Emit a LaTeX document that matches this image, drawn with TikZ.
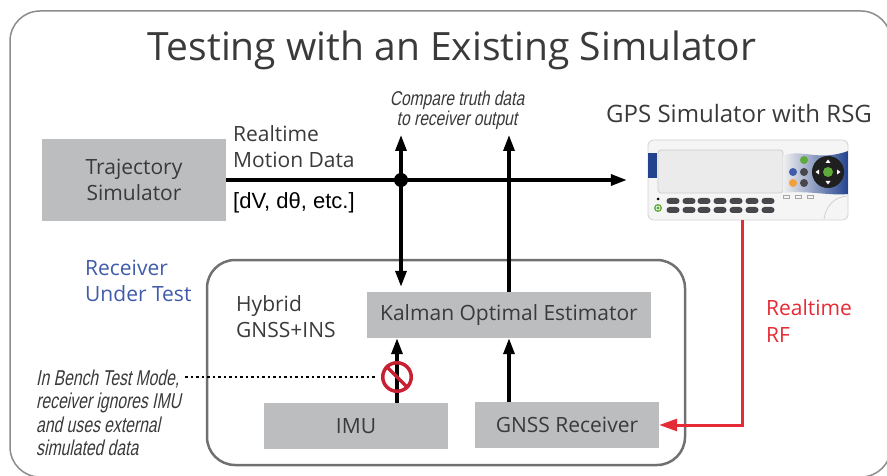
\documentclass[tikz,border=0pt]{standalone}
\usepackage{fontspec}
\setmainfont{Open Sans}
\newfontfamily\condit{Liberation Sans}[FakeStretch=0.73,FakeSlant=0.2]
\newfontfamily\conditb{Liberation Sans}[FakeStretch=0.78,FakeSlant=0.2]
\newfontfamily\arialf{Liberation Sans}
\usetikzlibrary{arrows.meta}
\definecolor{boxgray}{HTML}{BCBDBF}
\definecolor{txtgray}{HTML}{3A3A3A}
\definecolor{rutblue}{HTML}{3F5BA9}
\definecolor{rfred}{HTML}{E52B35}
\definecolor{nored}{HTML}{C62032}
\definecolor{framegray}{HTML}{8C8C8C}
\definecolor{innergray}{HTML}{707070}
\definecolor{devblue}{HTML}{24438F}
\definecolor{keydark}{HTML}{48484C}
\definecolor{btngreen}{HTML}{5DAA3A}
\definecolor{btnorange}{HTML}{F2A03A}
\newcommand\lstack[2]{\vtop{\baselineskip=#1\lineskiplimit=-1000pt\lineskip=0pt\halign{##\hfil\cr#2\crcr}}}
\newcommand\cstack[2]{\vtop{\baselineskip=#1\lineskiplimit=-1000pt\lineskip=0pt\halign{\hfil##\hfil\cr#2\crcr}}}
\begin{document}
\begin{tikzpicture}[x=1pt,y=-1pt,
  graybox/.style={fill=boxgray, inner sep=0pt, text=txtgray, font=\fontsize{21}{26}\selectfont},
  lbl/.style={inner sep=0pt, text=txtgray, font=\fontsize{21}{26}\selectfont},
  notelbl/.style={inner sep=0pt, text=txtgray, font=\condit\fontsize{21.5}{23.5}\selectfont},
  arr/.style={line width=3.3pt, draw=black, -{Triangle[length=16pt,width=11pt]}},
  rf/.style={line width=3pt, draw=rfred, -{Triangle[length=18pt,width=12pt]}},
  dots/.style={line width=2.5pt, dash pattern=on 2.5pt off 3pt},
  key/.style={fill=keydark, rounded corners=3pt}
]
\useasboundingbox (0,0) rectangle (887,476);
\clip (0,0) rectangle (887,476);
% outer frame
\draw[framegray, line width=1.5pt, rounded corners=30pt] (10,11) rectangle (891,477);
% title
\node[lbl, anchor=base, font=\fontsize{39}{44}\selectfont] (title) at (452,61) {Testing with an Existing Simulator};
% inner frame
\draw[innergray, line width=2.5pt, rounded corners=28pt] (207,260) rectangle (685,465);
% boxes
\node[graybox, minimum width=184pt, minimum height=82pt] (traj) at (134,180) {\cstack{26pt}{Trajectory\cr Simulator}};
\node[graybox, minimum width=284pt, minimum height=46pt] (kalman) at (509,315) {Kalman Optimal Estimator};
\node[graybox, minimum width=184pt, minimum height=46pt] (imu) at (356,426) {IMU};
\node[graybox, minimum width=184pt, minimum height=46pt] (gnss) at (567,425) {GNSS Receiver};
% GPS simulator device
\node[minimum width=200pt, minimum height=80pt, inner sep=0pt] (gps) at (748,180) {};
\draw[draw=black!18, fill=black!4, line width=0.8pt, rounded corners=5pt] (648,140) rectangle (848,220);
\fill[devblue] (648,153) rectangle (657,178);
\draw[draw=black!20, fill=black!8, line width=0.8pt, rounded corners=3pt] (658,150) rectangle (783,193);
\shade[left color=black!6, right color=devblue] (783,156) .. controls (800,148) and (818,162) .. (848,151) -- (848,194) .. controls (830,196) and (805,190) .. (783,193) -- cycle;
\fill[black!88] (828,172) circle (16pt);
\fill[btngreen] (828,172) circle (5pt);
\fill[white] (825.5,163) -- (830.5,163) -- (828,159.5) -- cycle;
\fill[white] (825.5,181) -- (830.5,181) -- (828,184.5) -- cycle;
\fill[white] (819,169.5) -- (819,174.5) -- (815.5,172) -- cycle;
\fill[white] (837,169.5) -- (837,174.5) -- (840.5,172) -- cycle;
\fill[btngreen] (804,160) circle (4pt);
\fill[rutblue] (793,172) circle (4pt);
\fill[keydark] (804,172) circle (4pt);
\fill[btnorange] (793,183) circle (4pt);
\fill[keydark] (804,183) circle (4pt);
\foreach \ix in {786,798,810} \draw[black!35, line width=0.5pt] (\ix-3,198) rectangle (\ix+3,195);
\draw[black!18, line width=0.8pt] (824,219) .. controls (826,205) and (835,197) .. (847,196);
\fill[black] (658,199) circle (1.5pt);
\fill[btngreen] (658,208) circle (4pt);
\draw[white, line width=0.7pt] (658,208) circle (2pt);
\foreach \kx in {673,689,704,720,736,752,768} {
  \fill[key] (\kx-6.5,198) rectangle (\kx+6.5,204);
  \fill[key] (\kx-6.5,207) rectangle (\kx+6.5,213);
}
% labels
\node[lbl, anchor=base west, font=\fontsize{24}{28}\selectfont] (gpslbl) at (606,123) {GPS Simulator with RSG};
\node[lbl, anchor=base west] (motion) at (233,142) {\lstack{26pt}{Realtime\cr Motion Data}};
\node[lbl, anchor=base west, font=\arialf\fontsize{22}{26}\selectfont, text=black] (dv) at (233,209) {[dV, dθ, etc.]};
\node[lbl, anchor=base west, text=rutblue] (rut) at (85,275) {\lstack{27pt}{Receiver\cr Under Test}};
\node[lbl, anchor=base west] (hybrid) at (236,311) {\lstack{26pt}{Hybrid\cr GNSS+INS}};
\node[lbl, anchor=base west, text=rfred] (rflbl) at (766,315) {\lstack{27pt}{Realtime\cr RF}};
\node[notelbl, anchor=base, font=\conditb\fontsize{20}{19}\selectfont] (compare) at (457,106) {\cstack{19.5pt}{Compare truth data\cr to receiver output}};
\node[notelbl, anchor=base west] (bench) at (36,385) {\lstack{23.5pt}{In Bench Test Mode,\cr receiver ignores IMU\cr and uses external\cr simulated data}};
% connectors
\coordinate (topA) at (401,135);
\coordinate (topB) at (509,135);
\node[circle, fill=black, minimum size=14pt, inner sep=0pt] (dot) at (401,180) {};
\draw[arr, shorten >=21pt] (traj.east) -- (gps.west);
\draw[arr] (dot.center) -- (topA);
\draw[arr, shorten >=5pt] (dot.center) -- (dot |- kalman.north);
\draw[arr] (kalman.north) -- (topB);
\draw[arr] ([xshift=41pt]imu.north) -- ([xshift=41pt]imu.north |- kalman.south);
\draw[arr] (kalman.south |- gnss.north) -- (kalman.south);
\draw[rf] ([xshift=-6pt]gps.south) |- (gnss.east);
% no symbol
\node[circle, draw=nored, line width=3.5pt, minimum size=28.5pt, inner sep=0pt] (nosym) at (397,377) {};
\draw[nored, line width=3.5pt] (nosym.north west) -- (nosym.south east);
\draw[dots] ([xshift=4pt]bench.east |- nosym.west) -- ([xshift=-6pt]nosym.west);
\end{tikzpicture}
\end{document}
